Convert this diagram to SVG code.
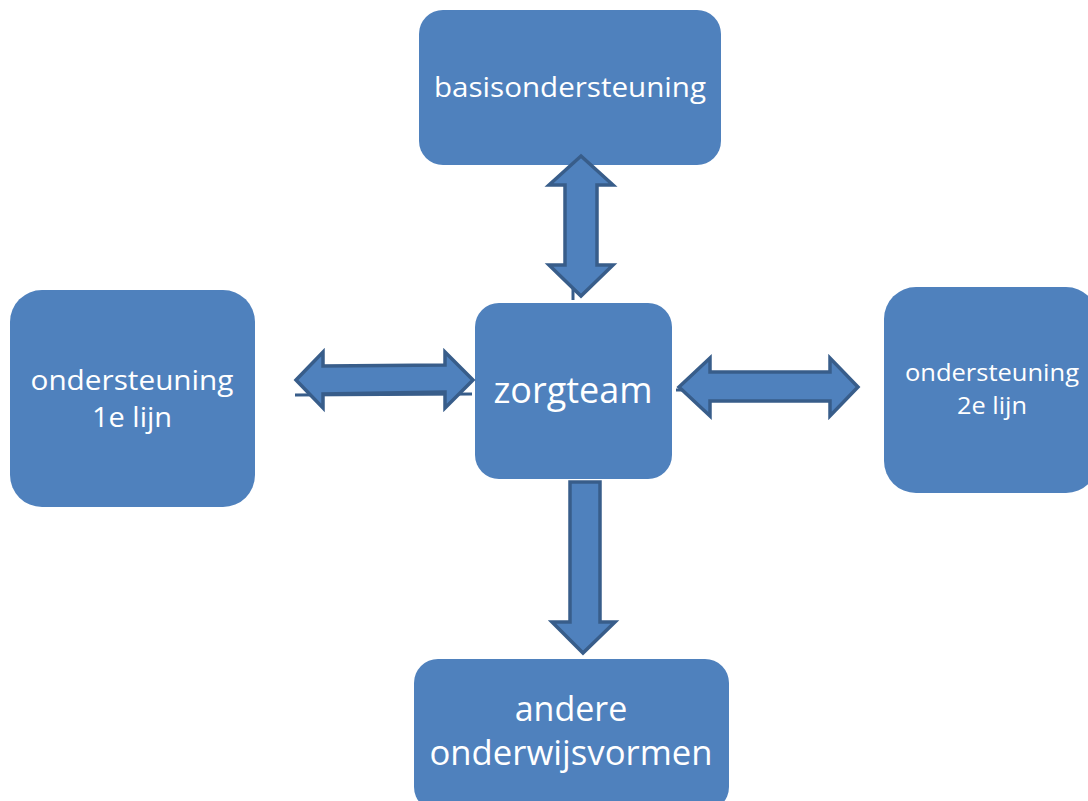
<svg xmlns="http://www.w3.org/2000/svg" width="1088" height="801" viewBox="0 0 1088 801">
<style>
.box{fill:#4F81BD;}
.arrow{fill:#4F81BD;stroke:#385D8A;stroke-width:3.5;stroke-linejoin:miter;}
.stub{stroke:#385D8A;stroke-width:3;fill:none;}
text{font-family:"Open Sans","Liberation Sans",sans-serif;fill:#FFFFFF;text-anchor:middle;}
</style>
<rect width="1088" height="801" fill="#FFFFFF"/>
<g id="node-basis"><rect class="box" x="419" y="10" width="302" height="155" rx="24"/><text x="570" y="97" font-size="28" textLength="272" lengthAdjust="spacingAndGlyphs">basisondersteuning</text></g>
<g id="node-1e"><rect class="box" x="10" y="290" width="245" height="217" rx="32"/><text x="132" y="390" font-size="27" textLength="203" lengthAdjust="spacingAndGlyphs">ondersteuning</text><text x="132" y="427" font-size="28" textLength="80" lengthAdjust="spacingAndGlyphs">1e lijn</text></g>
<g id="node-zorgteam"><rect class="box" x="475" y="303" width="197" height="176" rx="24"/><text x="573" y="403" font-size="36" textLength="159" lengthAdjust="spacingAndGlyphs">zorgteam</text></g>
<g id="node-2e"><rect class="box" x="884" y="287" width="214" height="206" rx="32"/><text x="992" y="381" font-size="23" textLength="174" lengthAdjust="spacingAndGlyphs">ondersteuning</text><text x="992" y="414" font-size="24" textLength="70" lengthAdjust="spacingAndGlyphs">2e lijn</text></g>
<g id="node-andere"><rect class="box" x="414" y="659" width="315" height="152" rx="24"/><text x="571" y="721" font-size="34">andere</text><text x="571" y="765" font-size="34" textLength="283" lengthAdjust="spacingAndGlyphs">onderwijsvormen</text></g>
<g id="connectors">
<line class="stub" x1="573" y1="280" x2="573" y2="300"/>
<line class="stub" x1="295" y1="395" x2="472" y2="394"/>
<line class="stub" x1="676" y1="390" x2="686" y2="390"/>
<polygon class="arrow" points="581,156 613,185 597,185 597,265 613,265 581,296 549,265 565,265 565,185 549,185"/>
<polygon class="arrow" points="296,380 323,352 323,366 445,365 445,352 473,380 445,408 445,392 323,394 323,408"/>
<polygon class="arrow" points="679,387 710,358 710,372 830,372 830,358 858,387 830,416 830,401 710,401 710,416"/>
<polygon class="arrow" points="570,482 600,482 600,622 615,622 583,653 552,622 570,622"/>
</g>
</svg>
